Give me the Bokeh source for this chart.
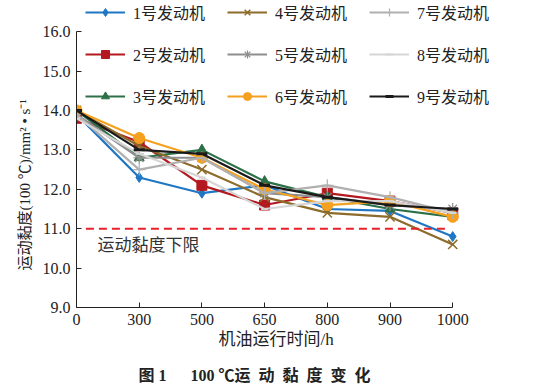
from bokeh.plotting import figure
from bokeh.models import Range1d, Legend, LegendItem, Title, FixedTicker, Label
from bokeh.embed import file_html
from bokeh.resources import INLINE

hours = ["0", "300", "500", "650", "800", "900", "1000"]
names = ["1号发动机", "2号发动机", "3号发动机", "4号发动机", "5号发动机",
         "6号发动机", "7号发动机", "8号发动机", "9号发动机"]
e1 = [13.9, 12.3, 11.9, 12.1, 11.5, 11.45, 10.8]
e2 = [13.8, 13.2, 12.1, 11.6, 11.9, 11.7, 11.4]
e3 = [14.0, 12.8, 13.0, 12.2, 11.8, 11.5, 11.3]
e4 = [14.0, 13.1, 12.5, 11.8, 11.4, 11.3, 10.6]
e5 = [13.9, 12.8, 12.8, 11.9, 11.8, 11.6, 11.5]
e6 = [14.0, 13.3, 12.8, 12.0, 11.6, 11.7, 11.3]
e7 = [13.9, 12.5, 12.8, 11.9, 12.1, 11.8, 11.4]
e8 = [13.8, 12.9, 12.3, 11.5, 11.7, 11.7, 11.4]
e9 = [14.0, 13.0, 12.9, 12.1, 11.8, 11.6, 11.5]
series = [e1, e2, e3, e4, e5, e6, e7, e8, e9]
limit = 11.0
limit_label = "运动黏度下限"
y_ticks = [9, 10, 11, 12, 13, 14, 15, 16]

colors = ["#1F77C4", "#B3191F", "#2C7048", "#8C6B2B", "#8E8E8E",
          "#F5A01E", "#B0B0B0", "#D6D6D6", "#1A1A1A"]
markers = ["diamond", "square", "triangle", "x", "asterisk",
           "circle", "cross", "dash", "dash"]
msizes = [10, 10, 10, 13, 12, 11, 12, 7, 11]
mlw = [1, 1, 1, 1.5, 1.2, 1, 1.2, 2, 3]

FONT = "'Liberation Serif', 'Noto Sans CJK SC', serif"
TXT = "#222222"

p = figure(width=550, height=385, x_range=Range1d(0, 7.40), y_range=Range1d(9, 16.79),
           output_backend="svg", toolbar_location=None,
           min_border_left=76, min_border_right=10, min_border_top=0, min_border_bottom=78)
p.outline_line_color = None
p.xgrid.visible = False
p.ygrid.visible = False

xs = list(range(len(hours)))
items = []
for i, (ys, c, m) in enumerate(zip(series, colors, markers)):
    r1 = p.line(xs, ys, line_color=c, line_width=2.2)
    if m in ("x", "asterisk", "cross", "dash"):
        r2 = p.scatter(xs, ys, marker=m, size=msizes[i], line_color=c, line_width=mlw[i])
    else:
        r2 = p.scatter(xs, ys, marker=m, size=msizes[i], fill_color=c, line_color=c)
    items.append(LegendItem(label=names[i], renderers=[r1, r2]))

p.line([xs[0] + 0.15, xs[-1] - 0.1], [limit, limit], line_color="#E8202A", line_width=2, line_dash="8 5")
p.add_layout(Label(x=0.335, y=10.57, text=limit_label, text_font=FONT, text_font_size="17px",
                   text_color="#333333", text_baseline="middle", text_align="left"))

legend = Legend(items=items, orientation="vertical", nrows=3, location=(9, 199),
                label_text_font=FONT, label_text_font_size="16px", label_text_color=TXT,
                glyph_width=40, glyph_height=20, label_height=20, label_width=76,
                label_standoff=8, spacing=18, padding=0, margin=0,
                background_fill_alpha=0, border_line_alpha=0)
p.add_layout(legend, "center")

p.xaxis.ticker = FixedTicker(ticks=xs)
p.xaxis.bounds = (xs[0], xs[-1])
p.xaxis.major_label_overrides = {i: h for i, h in enumerate(hours)}
p.yaxis.ticker = FixedTicker(ticks=y_ticks)
p.yaxis.bounds = (y_ticks[0], y_ticks[-1])
p.yaxis.major_label_overrides = {t: f"{t:.1f}" for t in y_ticks}
for ax in (p.xaxis[0], p.yaxis[0]):
    ax.major_tick_in = 5
    ax.major_tick_out = 0
    ax.minor_tick_in = 0
    ax.minor_tick_out = 0
    ax.axis_line_color = "#222222"
    ax.major_tick_line_color = "#222222"
    ax.major_label_text_font = FONT
    ax.major_label_text_font_size = "16px"
    ax.major_label_text_color = TXT
p.xaxis.major_label_standoff = 6
p.yaxis.major_label_standoff = 6

ylab = Title(text="运动黏度(100 ℃)/mm\u00b2 • s\u207b\u00b9", align="left", offset=37,
             text_font=FONT, text_font_size="15px", text_font_style="normal",
             text_color=TXT, standoff=14)
p.add_layout(ylab, "left")

xlab = Title(text="机油运行时间/h", align="left", offset=142, text_font=FONT,
             text_font_size="17px", text_font_style="normal", text_color=TXT, standoff=0)
p.add_layout(xlab, "below")

spacer = Title(text="\u00a0", text_font=FONT, text_font_size="12px", standoff=0)
p.add_layout(spacer, "below")

cap = Title(text="图 1\u2003\u2002100 ℃运\u2002动\u2002黏\u2002度\u2002变\u2002化", align="left",
            offset=62, text_font=FONT, text_font_size="16px", text_font_style="bold",
            text_color=TXT, standoff=0)
p.add_layout(cap, "below")

open("out.html", "w").write(file_html(p, INLINE))
